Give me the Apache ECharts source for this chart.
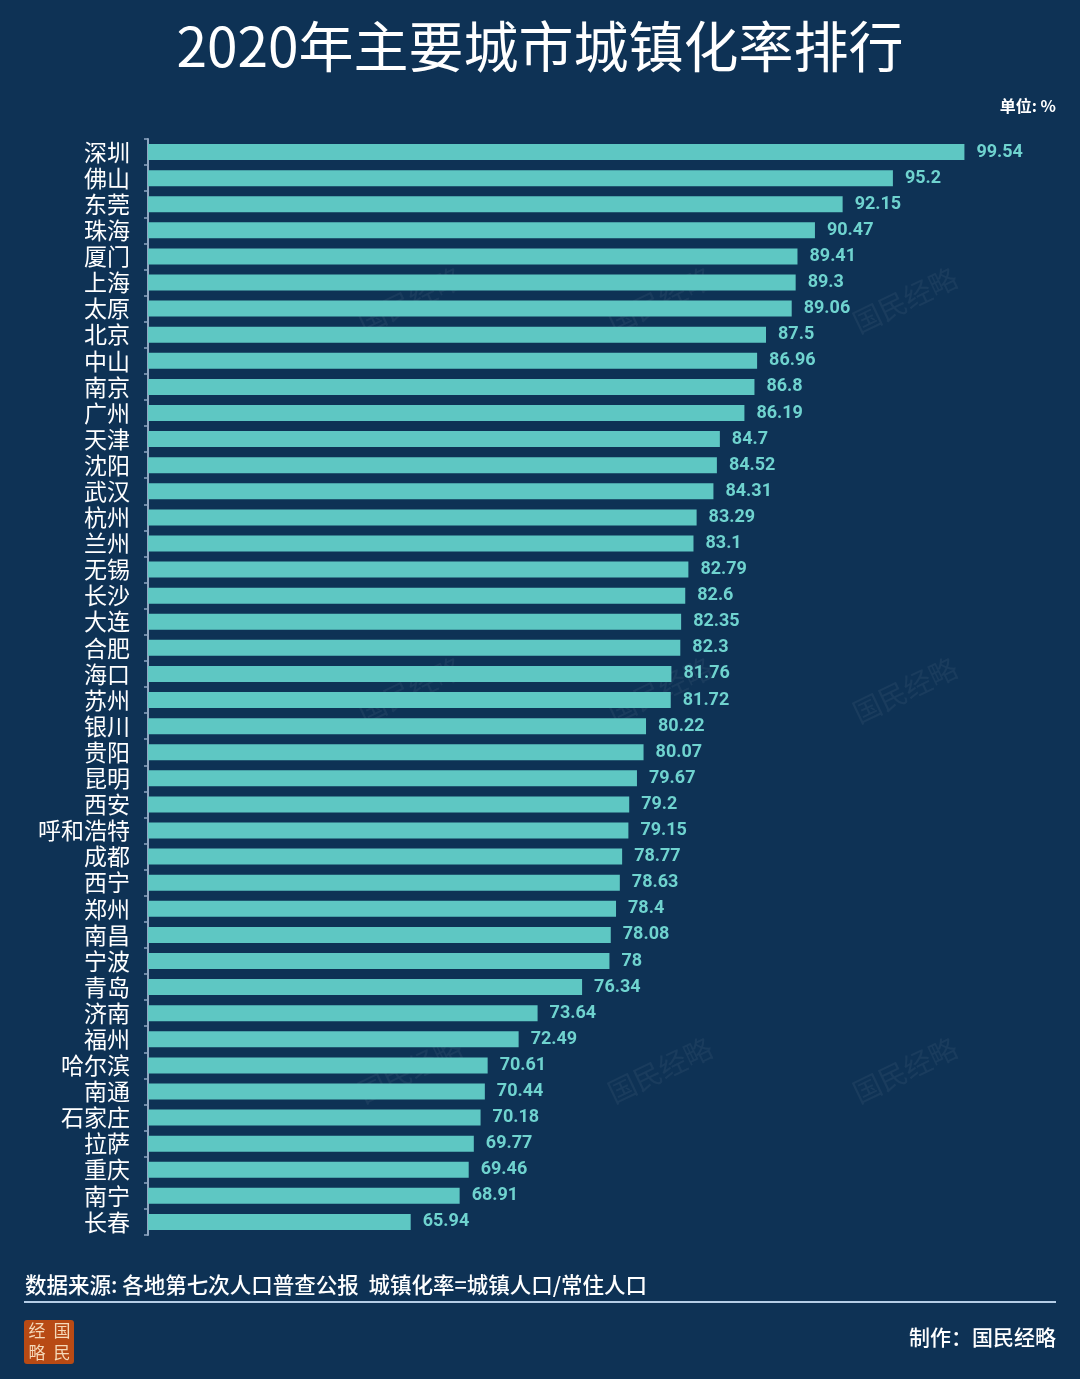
<!DOCTYPE html>
<html><head><meta charset="utf-8">
<script src="https://cdn.jsdelivr.net/npm/echarts@6/dist/echarts.min.js"></script>
<style>html,body{margin:0;padding:0;background:#0e3255;}#c{width:1080px;height:1379px;}</style>
</head><body><div id="c"></div>
<script>
const cities = ['深圳','佛山','东莞','珠海','厦门','上海','太原','北京','中山','南京','广州','天津','沈阳','武汉','杭州','兰州','无锡','长沙','大连','合肥','海口','苏州','银川','贵阳','昆明','西安','呼和浩特','成都','西宁','郑州','南昌','宁波','青岛','济南','福州','哈尔滨','南通','石家庄','拉萨','重庆','南宁','长春'];
const rates = [99.54,95.2,92.15,90.47,89.41,89.3,89.06,87.5,86.96,86.8,86.19,84.7,84.52,84.31,83.29,83.1,82.79,82.6,82.35,82.3,81.76,81.72,80.22,80.07,79.67,79.2,79.15,78.77,78.63,78.4,78.08,78,76.34,73.64,72.49,70.61,70.44,70.18,69.77,69.46,68.91,65.94];
const titleText = '2020年主要城市城镇化率排行';
const unitText = '单位: %';
const sourceText = '数据来源: 各地第七次人口普查公报  城镇化率=城镇人口/常住人口';
const makerText = '制作：国民经略';

const chart = echarts.init(document.getElementById('c'), null, {renderer:'canvas'});
const cjk = '"Noto Sans CJK SC", "Noto Sans", sans-serif';
const wm = [];
[[905,300],[660,300],[410,300],[905,690],[660,690],[410,690],[905,1070],[660,1070],[410,1070]].forEach(p=>{
  wm.push({type:'text', x:p[0], y:p[1], rotation: Math.PI/7, style:{text:'国民经略', fill:'rgba(255,255,255,0.05)', font:'28px "Noto Sans CJK SC"', textAlign:'center', textVerticalAlign:'middle'}, z:0, silent:true});
});
chart.setOption({
  backgroundColor:'#0e3255',
  title:{text:titleText, left:'center', top:14, textStyle:{color:'#ffffff', fontSize:55, fontWeight:'normal', fontFamily:cjk}},
  grid:{left:148, right:108, top:139, bottom:1379-1235},
  xAxis:{type:'value', min:50, max:100, show:false},
  yAxis:{type:'category', data:cities, inverse:true,
    axisLine:{show:true, lineStyle:{color:'#8fa7c2', width:2}},
    axisTick:{show:true, length:4, lineStyle:{color:'#8fa7c2', width:1.5}},
    axisLabel:{interval:0, color:'#ffffff', fontSize:23, fontFamily:cjk, margin:18}},
  series:[{type:'bar', data:rates, barWidth:16, itemStyle:{color:'#5ec7c3'},
    label:{show:true, position:'right', distance:12, color:'#6fd3cf', fontSize:18, fontWeight:'bold', fontFamily:'"Roboto", "Liberation Sans", sans-serif'}}],
  graphic:[
    ...wm,
    {type:'text', right:24, top:98, style:{text:unitText, fill:'#ffffff', font:'bold 16px "Noto Sans CJK SC"'}},
    {type:'text', left:25, top:1274, style:{text:sourceText, fill:'#ffffff', font:'500 21.5px "Noto Sans CJK SC"'}},
    {type:'rect', shape:{x:24, y:1301, width:1032, height:2}, style:{fill:'#b5cde6'}},
    {type:'rect', shape:{x:24, y:1320, width:50, height:44, r:3}, style:{fill:'#b84a14'}},
    {type:'text', x:37, y:1331, style:{text:'经', fill:'#f5d9b8', font:'17px "Noto Sans CJK SC"', textAlign:'center', textVerticalAlign:'middle'}},
    {type:'text', x:62, y:1331, style:{text:'国', fill:'#f5d9b8', font:'17px "Noto Sans CJK SC"', textAlign:'center', textVerticalAlign:'middle'}},
    {type:'text', x:37, y:1353, style:{text:'略', fill:'#f5d9b8', font:'17px "Noto Sans CJK SC"', textAlign:'center', textVerticalAlign:'middle'}},
    {type:'text', x:62, y:1353, style:{text:'民', fill:'#f5d9b8', font:'17px "Noto Sans CJK SC"', textAlign:'center', textVerticalAlign:'middle'}},
    {type:'text', right:24, top:1327, style:{text:makerText, fill:'#ffffff', font:'500 21px "Noto Sans CJK SC"'}}
  ]
});
</script></body></html>
